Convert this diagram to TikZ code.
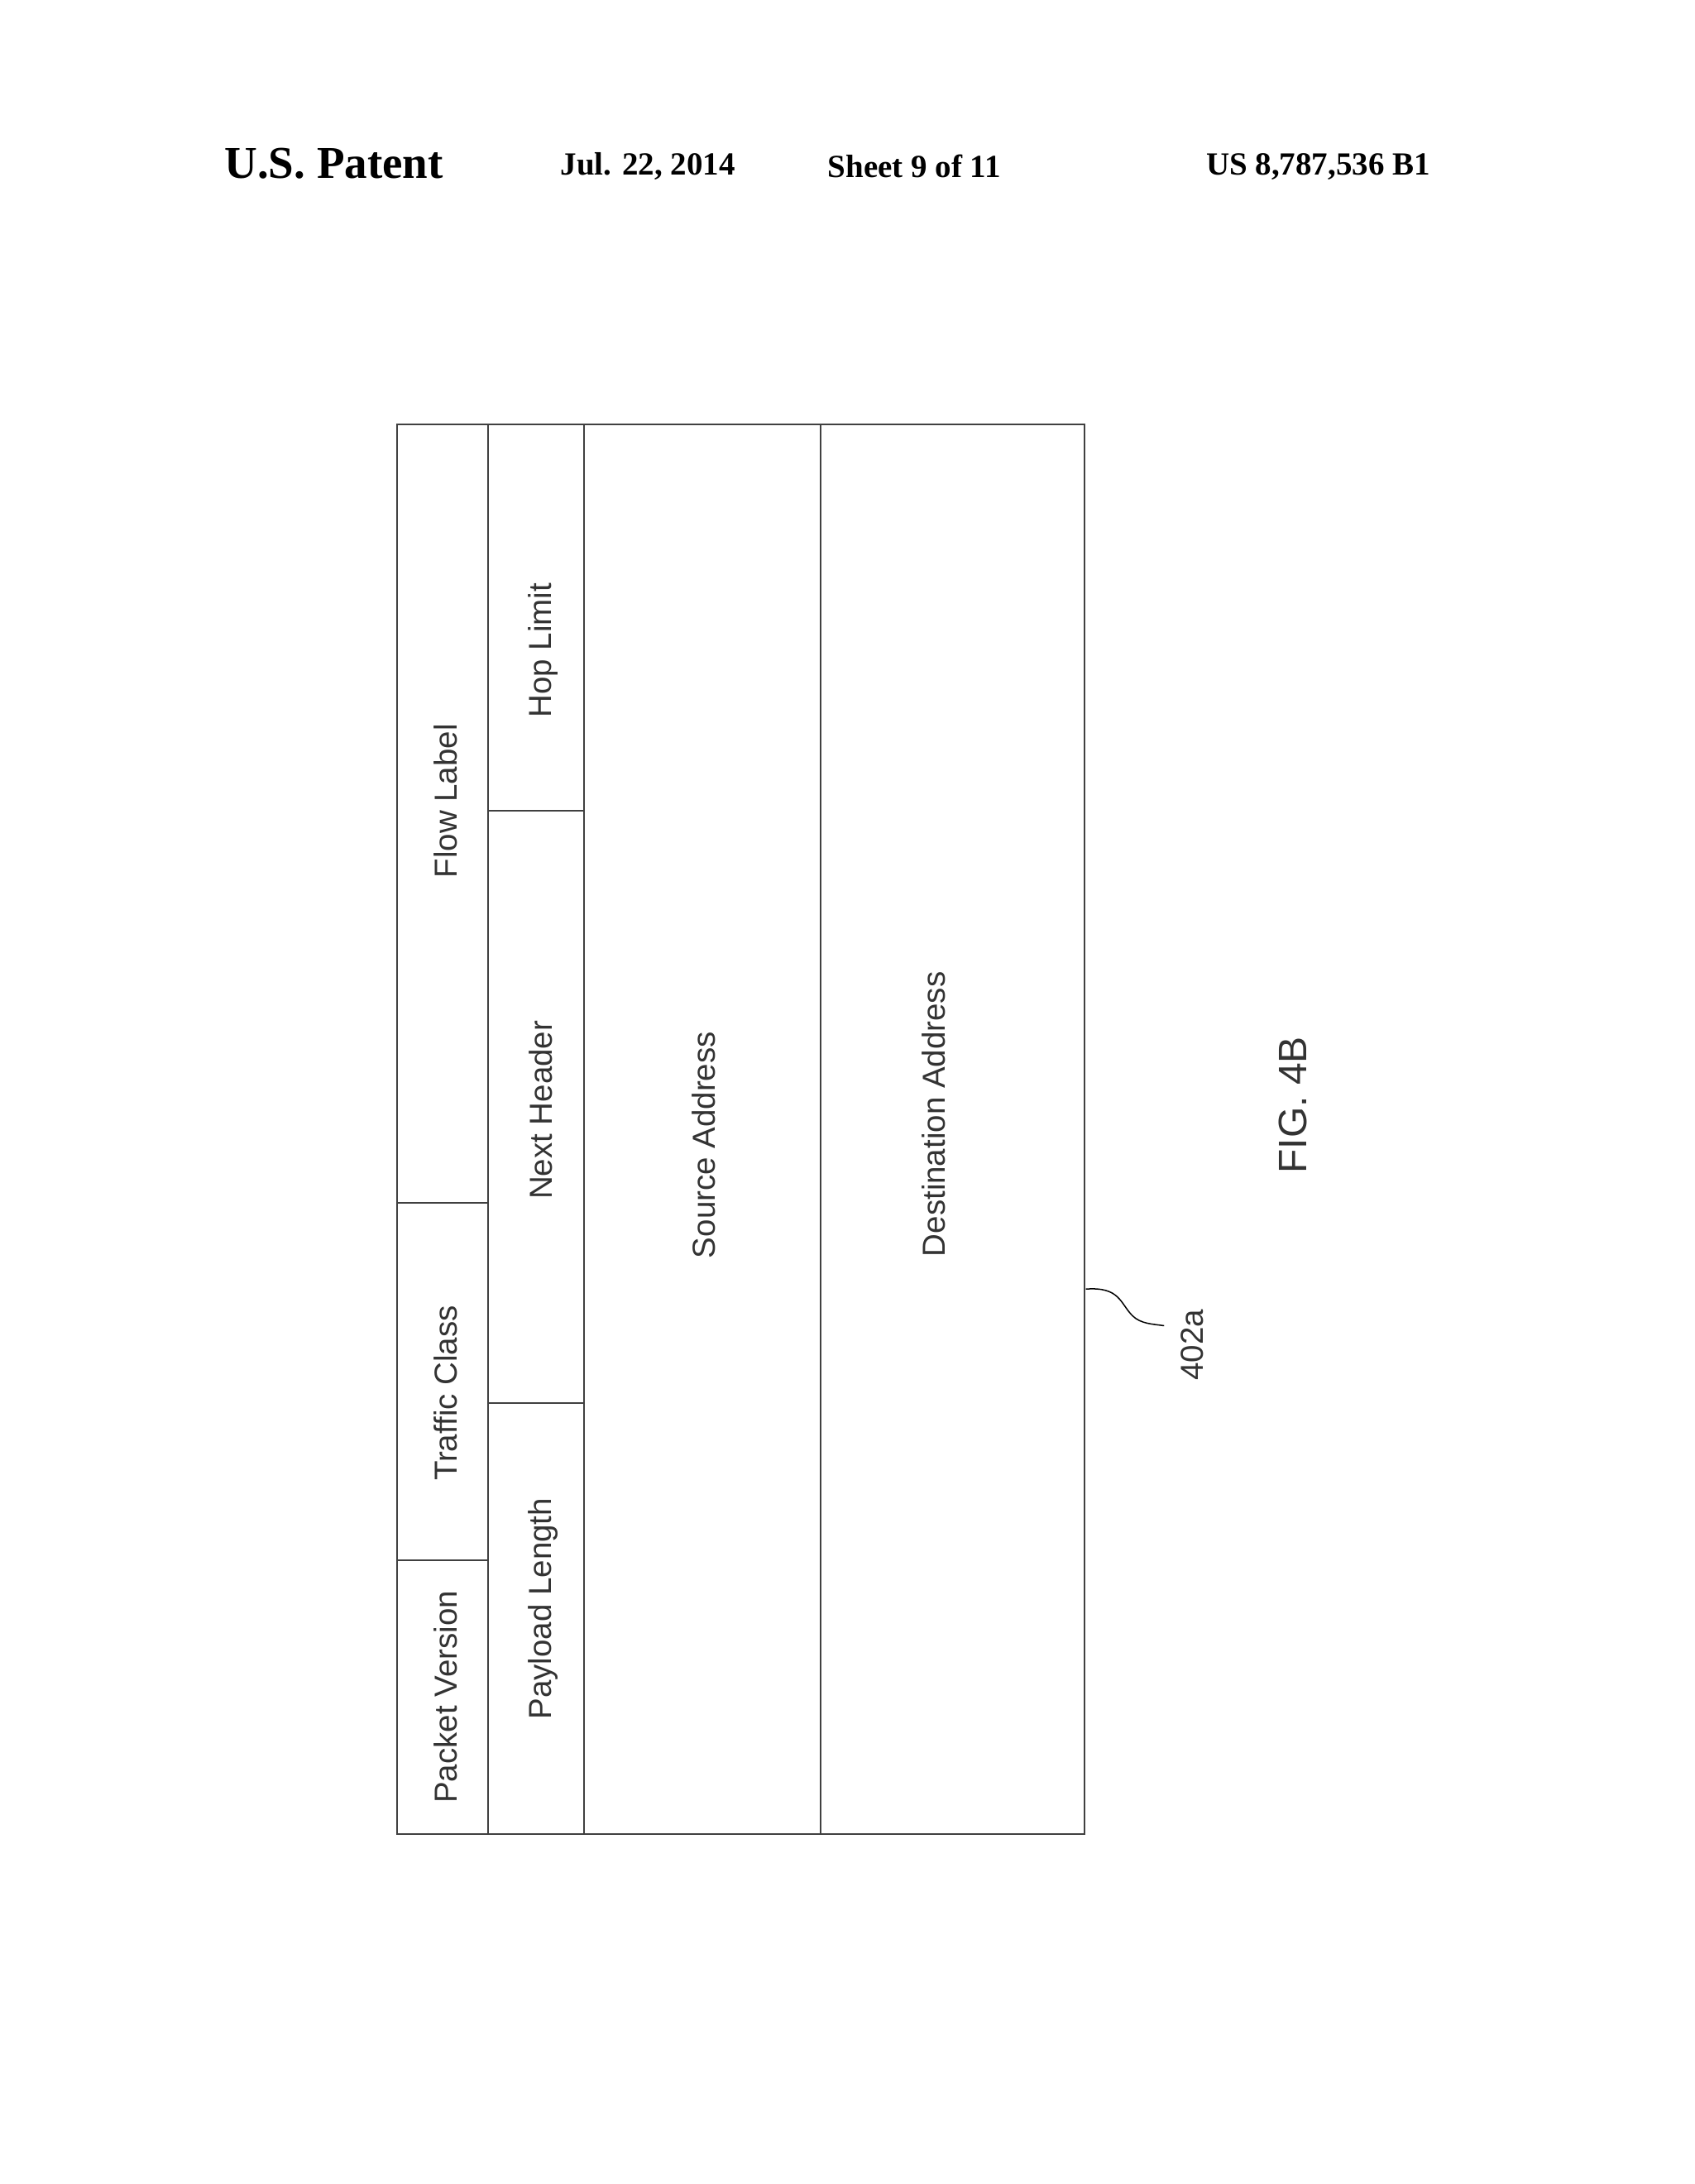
\documentclass[tikz,border=0pt]{standalone}
\usepackage{fontspec}
\setmainfont{Liberation Serif}
\newfontfamily\arialf{Liberation Sans}
\begin{document}
\begin{tikzpicture}[x=1.0066pt,y=-1.0066pt,
  lbl/.style={font=\arialf\fontsize{38.5}{40}\selectfont,rotate=90,text=black!80},
  hdr/.style={font=\bfseries\fontsize{39}{42}\selectfont}]
\useasboundingbox[fill=white] (0,0) rectangle (2034.6,2622.7);
\begin{scope}[line width=2pt, draw=black!75]
\draw (477,510) rectangle (1302,2202);
\draw (586,510) -- (586,2202);
\draw (701,510) -- (701,2202);
\draw (985,510) -- (985,2202);
\draw (477,1444) -- (586,1444);
\draw (477,1874) -- (586,1874);
\draw (586,974) -- (701,974);
\draw (586,1685) -- (701,1685);
\end{scope}
\node[hdr,font=\bfseries\fontsize{55}{60}\selectfont] (h1) at (401,196) {U.S. Patent};
\node[hdr] (h2) at (778,200) {Jul. 22, 2014};
\node[hdr] (h3) at (1098,200) {Sheet 9 of 11};
\node[hdr] (h4) at (1583,200) {US 8,787,536 B1};
\node[lbl] (pv) at (535,2038) {Packet Version};
\node[lbl] (tc) at (535,1673) {Traffic Class};
\node[lbl] (fl) at (535,962) {Flow Label};
\node[lbl] (pl) at (652,1932) {Payload Length};
\node[lbl] (nh) at (649,1333) {Next Header};
\node[lbl] (hl) at (652,781) {Hop Limit};
\node[lbl] (sa) at (845,1375) {Source Address};
\node[lbl] (da) at (1121,1338) {Destination Address};
\node[lbl,font=\arialf\fontsize{48}{50}\selectfont] (fig) at (1553,1327) {FIG. 4B};
\node[lbl] (ref) at (1432,1615) {402a};
\coordinate (c0) at (1304,1548);
\draw[line width=1.5pt] (c0) .. controls (1345,1545) and (1345,1565) .. (1360,1580) .. controls (1370,1590) and (1385,1590) .. (1398,1592);
\end{tikzpicture}
\end{document}
